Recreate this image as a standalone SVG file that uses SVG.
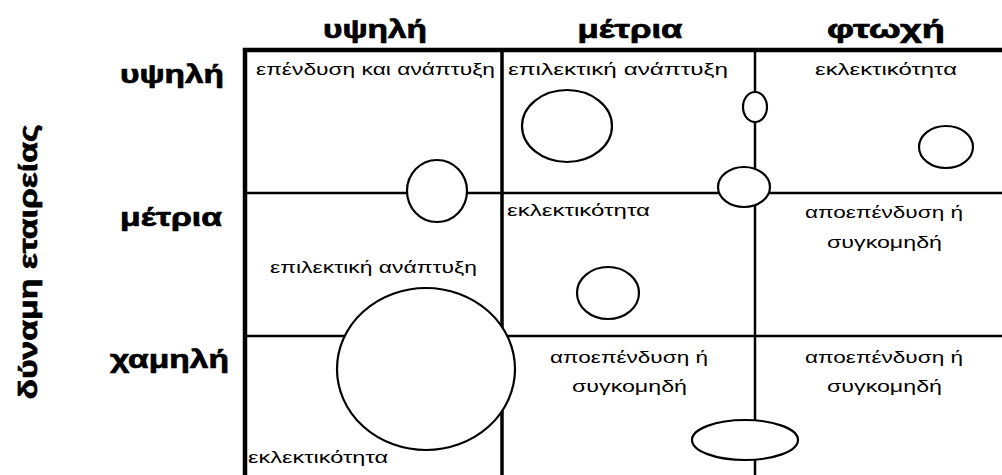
<svg xmlns="http://www.w3.org/2000/svg" width="1002" height="475" viewBox="0 0 1002 475">
<style>
.hdr{font-family:"Liberation Sans","DejaVu Sans",sans-serif;font-weight:bold;font-size:26px;fill:#000;stroke:#000;stroke-width:0.7}
.cell{font-family:"Liberation Sans","DejaVu Sans",sans-serif;font-size:17px;fill:#000}
.thick{stroke:#000;stroke-width:4.5;fill:none}
.mid{stroke:#000;stroke-width:3.5;fill:none}
.thin{stroke:#000;stroke-width:2.5;fill:none}
.bub{fill:#fff;stroke:#000;stroke-width:2.2}
</style>
<rect width="1002" height="475" fill="#fff"/>
<g id="connectors">
<line class="thick" x1="243" y1="50" x2="1002" y2="50"/>
<line class="thick" x1="245" y1="48" x2="245" y2="475"/>
<line class="mid" x1="502" y1="50" x2="502" y2="475"/>
<line class="thin" x1="755" y1="50" x2="755" y2="475"/>
<line class="thin" x1="245" y1="193" x2="1002" y2="193"/>
<line class="thin" x1="245" y1="336" x2="1002" y2="336"/>
</g>
<g id="axis-labels">
<text class="hdr" x="375" y="38" text-anchor="middle" textLength="104" lengthAdjust="spacingAndGlyphs">υψηλή</text>
<text class="hdr" x="630" y="38" text-anchor="middle" textLength="105" lengthAdjust="spacingAndGlyphs">μέτρια</text>
<text class="hdr" x="886" y="38" text-anchor="middle" textLength="118" lengthAdjust="spacingAndGlyphs">φτωχή</text>
<text class="hdr" x="224" y="83" text-anchor="end" textLength="104" lengthAdjust="spacingAndGlyphs">υψηλή</text>
<text class="hdr" x="222" y="226" text-anchor="end" textLength="102" lengthAdjust="spacingAndGlyphs">μέτρια</text>
<text class="hdr" x="229" y="368" text-anchor="end" textLength="119" lengthAdjust="spacingAndGlyphs">χαμηλή</text>
<text class="hdr" transform="translate(37,262) rotate(-90)" text-anchor="middle" textLength="275" lengthAdjust="spacingAndGlyphs">δύναμη εταιρείας</text>
</g>
<g id="cell-texts">
<text class="cell" x="256" y="75" textLength="239" lengthAdjust="spacingAndGlyphs">επένδυση και ανάπτυξη</text>
<text class="cell" x="508" y="75" textLength="220" lengthAdjust="spacingAndGlyphs">επιλεκτική ανάπτυξη</text>
<text class="cell" x="815" y="75" textLength="142" lengthAdjust="spacingAndGlyphs">εκλεκτικότητα</text>
<text class="cell" x="507" y="216" textLength="143" lengthAdjust="spacingAndGlyphs">εκλεκτικότητα</text>
<text class="cell" x="805" y="218" textLength="158" lengthAdjust="spacingAndGlyphs">αποεπένδυση ή</text>
<text class="cell" x="827" y="248" textLength="115" lengthAdjust="spacingAndGlyphs">συγκομηδή</text>
<text class="cell" x="270" y="273" textLength="207" lengthAdjust="spacingAndGlyphs">επιλεκτική ανάπτυξη</text>
<text class="cell" x="550" y="363" textLength="158" lengthAdjust="spacingAndGlyphs">αποεπένδυση ή</text>
<text class="cell" x="572" y="392" textLength="115" lengthAdjust="spacingAndGlyphs">συγκομηδή</text>
<text class="cell" x="805" y="363" textLength="158" lengthAdjust="spacingAndGlyphs">αποεπένδυση ή</text>
<text class="cell" x="827" y="392" textLength="115" lengthAdjust="spacingAndGlyphs">συγκομηδή</text>
<text class="cell" x="248" y="463" textLength="140" lengthAdjust="spacingAndGlyphs">εκλεκτικότητα</text>
</g>
<g id="bubble1"><ellipse class="bub" cx="437" cy="191" rx="30" ry="31"/></g>
<g id="bubble2"><ellipse class="bub" cx="567" cy="126" rx="45" ry="36"/></g>
<g id="bubble3"><ellipse class="bub" cx="755" cy="107" rx="12" ry="15"/></g>
<g id="bubble4"><ellipse class="bub" cx="946" cy="147" rx="27" ry="21"/></g>
<g id="bubble5"><ellipse class="bub" cx="744" cy="187" rx="26" ry="20"/></g>
<g id="bubble6"><ellipse class="bub" cx="608" cy="293" rx="31" ry="26"/></g>
<g id="bubble7"><ellipse class="bub" cx="426" cy="369" rx="89" ry="81"/></g>
<g id="bubble8"><ellipse class="bub" cx="745" cy="440" rx="53" ry="20"/></g>
</svg>
